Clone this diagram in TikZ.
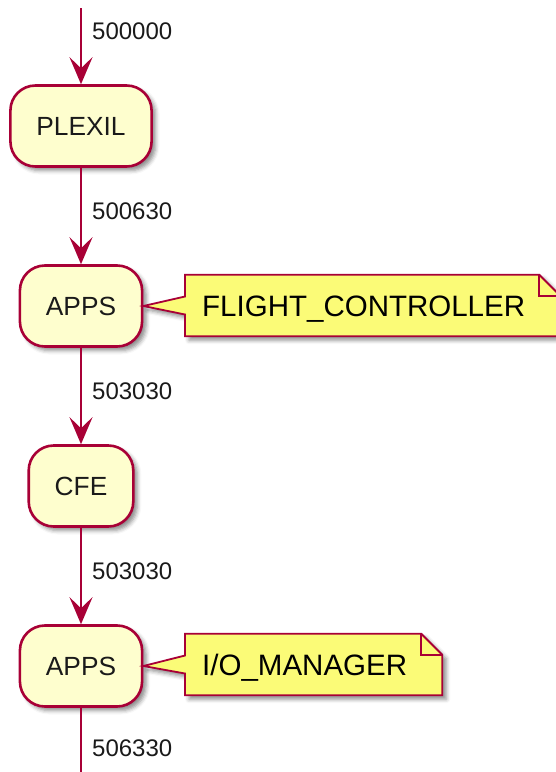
\documentclass[tikz,border=0pt]{standalone}
\usepackage{fontspec}
\setmainfont{Liberation Sans}
\usetikzlibrary{shadows.blur,calc,arrows.meta}

\definecolor{umlborder}{HTML}{A80036}
\definecolor{umlfill}{HTML}{FEFECE}
\definecolor{umlnote}{HTML}{FBFB77}
\definecolor{umltext}{HTML}{1A1A1A}

\tikzset{
  softshadow/.style={blur shadow={shadow xshift=4pt, shadow yshift=-4pt,
      shadow blur radius=4pt, shadow opacity=45}},
  act/.style={draw=umlborder, fill=umlfill, line width=2.6pt,
    rounded corners=25pt, minimum height=81pt, inner xsep=26pt, inner ysep=0pt,
    text height=18.8pt, text depth=0pt, text=umltext,
    font=\fontsize{26.3}{30}\selectfont, softshadow},
  flow/.style={draw=umlborder, line width=2.4pt,
    -{Stealth[length=27pt, width=23pt, inset=11pt, umlborder]}},
  plainline/.style={draw=umlborder, line width=2.4pt},
  flowlabel/.style={anchor=west, xshift=10pt, inner sep=0pt, text=umltext,
    font=\fontsize{24}{28}\selectfont},
  notetext/.style={inner sep=0pt, minimum height=61pt, text height=21pt,
    text depth=0pt, text=black, font=\fontsize{29.5}{33}\selectfont},
  noteshape/.style={draw=umlborder, fill=umlnote, line width=1.8pt,
    line join=miter, softshadow},
  notefold/.style={draw=umlborder, line width=1.8pt}
}

\begin{document}
\begin{tikzpicture}[x=1pt, y=-1pt]
  \useasboundingbox (0,0) rectangle (556,772);
  \clip (0,0) rectangle (556,772);

  % activity boxes on the spine
  \node[act] (plexil) at (81,126) {PLEXIL};
  \node[act] (apps1)  at (81,306) {APPS};
  \node[act] (cfe)    at (81,486) {CFE};
  \node[act] (apps2)  at (81,666) {APPS};

  % free ends of the first and last connectors
  \coordinate (start) at (81,8);
  \coordinate (finish) at (81,780);

  % connectors with their labels
  \draw[flow] (start) -- node[flowlabel, pos=0.31] {500000} (plexil.north);
  \draw[flow] (plexil.south) -- node[flowlabel, pos=0.45] {500630} (apps1.north);
  \draw[flow] (apps1.south) -- node[flowlabel, pos=0.45] {503030} (cfe.north);
  \draw[flow] (cfe.south) -- node[flowlabel, pos=0.45] {503030} (apps2.north);
  \draw[plainline] (apps2.south) -- node[flowlabel, pos=0.56] {506330} (finish);

  % note attached to the first APPS
  \node[notetext, anchor=west] (n1) at (202,305.5) {FLIGHT\_CONTROLLER};
  \path[noteshape]
    ($(n1.north west)+(-17,0)$) -- ($(n1.north east)+(14,0)$)
    -- ($(n1.north east)+(35,21)$) -- ($(n1.south east)+(35,0)$)
    -- ($(n1.south west)+(-17,0)$) -- ($(n1.west)+(-17,9)$)
    -- (apps1.east) -- ($(n1.west)+(-17,-9)$) -- cycle;
  \draw[notefold] ($(n1.north east)+(14,0)$) -- ($(n1.north east)+(14,21)$)
    -- ($(n1.north east)+(35,21)$);
  \node[notetext, anchor=west] at (n1.west) {FLIGHT\_CONTROLLER};

  % note attached to the second APPS
  \node[notetext, anchor=west] (n2) at (202,664.5) {I/O\_MANAGER};
  \path[noteshape]
    ($(n2.north west)+(-17,0)$) -- ($(n2.north east)+(14,0)$)
    -- ($(n2.north east)+(35,21)$) -- ($(n2.south east)+(35,0)$)
    -- ($(n2.south west)+(-17,0)$) -- ($(n2.west)+(-17,9)$)
    -- (apps2.east) -- ($(n2.west)+(-17,-9)$) -- cycle;
  \draw[notefold] ($(n2.north east)+(14,0)$) -- ($(n2.north east)+(14,21)$)
    -- ($(n2.north east)+(35,21)$);
  \node[notetext, anchor=west] at (n2.west) {I/O\_MANAGER};
\end{tikzpicture}
\end{document}
